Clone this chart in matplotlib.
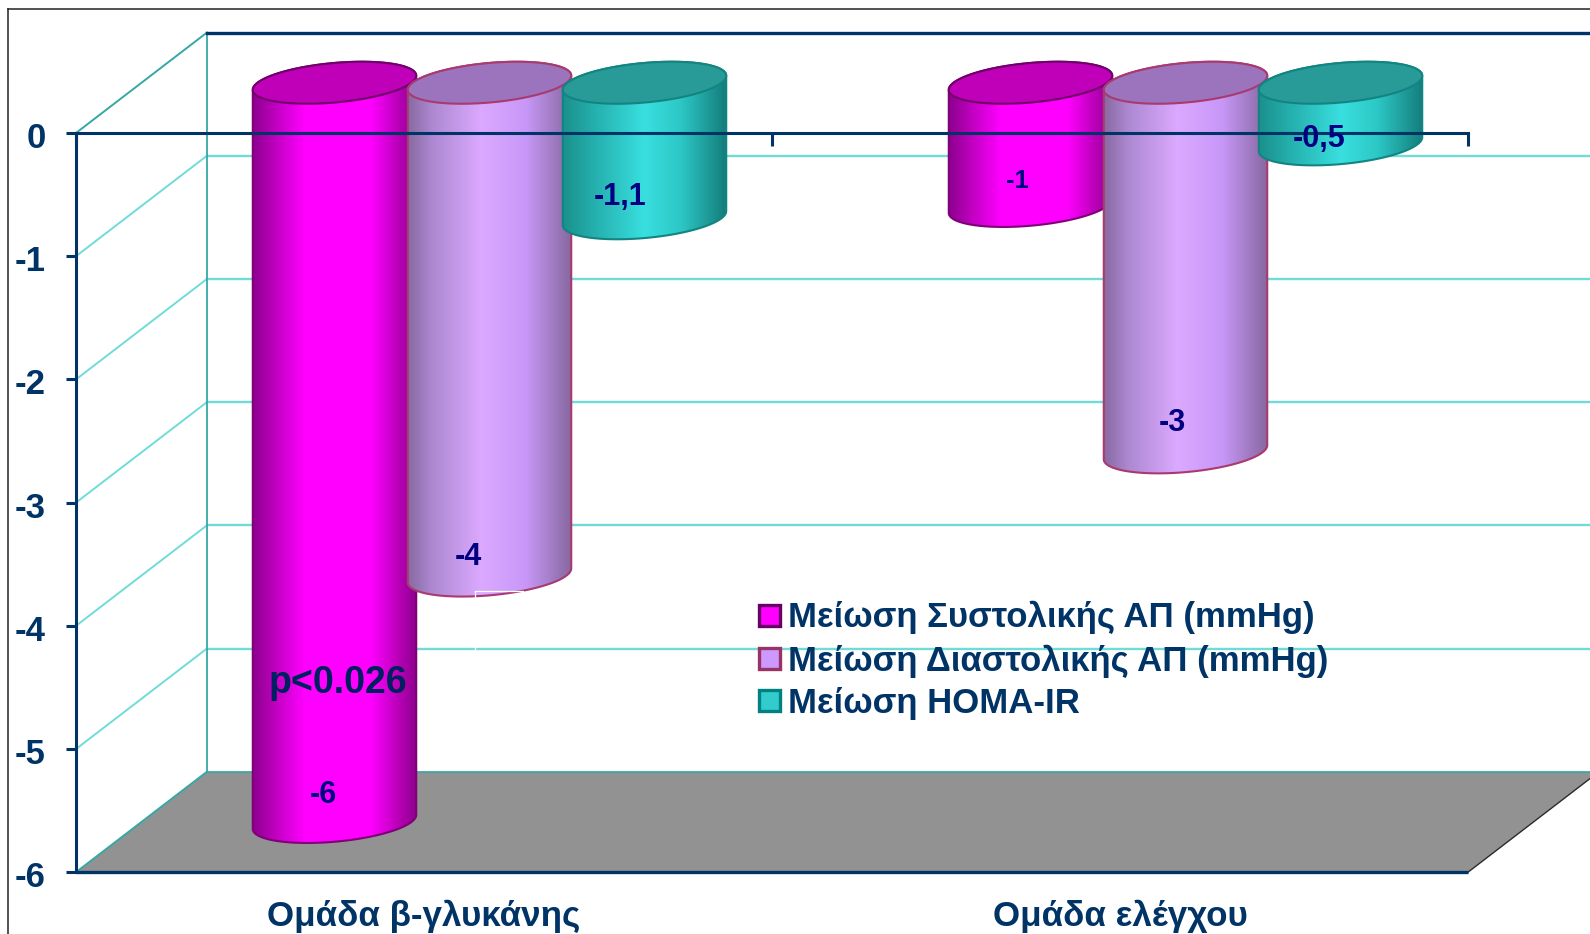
import numpy as np
import matplotlib
matplotlib.use("Agg")
import matplotlib.pyplot as plt
from matplotlib.colors import to_rgb
from matplotlib.lines import Line2D
from matplotlib.patches import Patch, Polygon, PathPatch
from matplotlib.path import Path
from matplotlib.transforms import ScaledTranslation

# ---- chart values ----
groups = ["Ομάδα β-γλυκάνης", "Ομάδα ελέγχου"]
series_names = ["Μείωση Συστολικής ΑΠ (mmHg)",
                "Μείωση Διαστολικής ΑΠ (mmHg)",
                "Μείωση HOMA-IR"]
systolic = [-6, -1]
diastolic = [-4, -3]
homa_ir = [-1.1, -0.5]
value_labels = [["-6", "-1"], ["-4", "-3"], ["-1,1", "-0,5"]]
y_ticks = [0, -1, -2, -3, -4, -5, -6]
y_tick_labels = ["0", "-1", "-2", "-3", "-4", "-5", "-6"]
significance = "p<0.026"

# ---- canvas and scale ----
W, H = 1590, 934
PX_PER_GROUP = 696.0
PX_PER_UNIT = 123.2
ZERO_X, ZERO_Y = 76.0, 133.0
NAVY = "#003366"
LABEL_BLUE = "#000080"
GRID = "#6fdcd8"
WALL = "#35a8a6"

plt.rcParams["font.family"] = ["Liberation Sans", "DejaVu Sans"]
plt.rcParams["font.weight"] = "bold"

fig = plt.figure(figsize=(W / 100, H / 100), dpi=100, facecolor="white")
ax = fig.add_axes([0, 0, 1, 1])
ax.set_xlim(-ZERO_X / PX_PER_GROUP, (W - ZERO_X) / PX_PER_GROUP)
ax.set_ylim(-(H - ZERO_Y) / PX_PER_UNIT, ZERO_Y / PX_PER_UNIT)
ax.patch.set_alpha(0)

# Oblique projection: how far the full chart depth shifts a point.
DEPTH_X = 131.0 / PX_PER_GROUP
DEPTH_Y = 100.5 / PX_PER_UNIT
x_end = 2.0 + DEPTH_X + 0.2
x_back = DEPTH_X

# ---- floor and walls ----
floor = Polygon([(0, -6), (2, -6), (2 + DEPTH_X, -6 + DEPTH_Y), (DEPTH_X, -6 + DEPTH_Y)],
                closed=True, facecolor="#929292", edgecolor="none", zorder=1.1)
ax.add_patch(floor)
ax.plot([2, 2 + DEPTH_X], [-6, -6 + DEPTH_Y], color="#2a2a2a", lw=1.0, zorder=1.2)
ax.plot([x_back, x_end], [-6 + DEPTH_Y] * 2, color=WALL, lw=1.2, zorder=1.2)

for v in y_ticks[1:-1]:
    ax.plot([x_back, x_end], [v + DEPTH_Y] * 2, color=GRID, lw=1.7, zorder=1.0)
for v in y_ticks:
    colour = WALL if v in (0, -6) else GRID
    ax.plot([0, DEPTH_X], [v, v + DEPTH_Y], color=colour, lw=1.4, zorder=1.2)
ax.plot([x_back, x_back], [-6 + DEPTH_Y, DEPTH_Y], color=WALL, lw=1.3, zorder=1.2)
ax.plot([x_back, x_end], [DEPTH_Y, DEPTH_Y], color=NAVY, lw=2.4, zorder=1.3)


def ramp(stops, n=256):
    """Horizontal colour ramp from (position, colour) stops."""
    pos = [p for p, _ in stops]
    rgb = np.array([to_rgb(c) for _, c in stops])
    u = np.linspace(0, 1, n)
    return np.stack([np.interp(u, pos, rgb[:, i]) for i in range(3)], axis=-1)[None, :, :]


series = [systolic, diastolic, homa_ir]
body_ramps = [
    [(0, "#8a008c"), (0.12, "#b800b8"), (0.32, "#ff00ff"), (0.72, "#ff00ff"), (1, "#8c008a")],
    [(0, "#86689f"), (0.15, "#ad88d0"), (0.45, "#dba9ff"), (0.72, "#c898f8"), (1, "#86689f")],
    [(0, "#1b8f8c"), (0.2, "#25b0ae"), (0.5, "#39dfdf"), (0.72, "#2cc8c6"), (1, "#147c7a")],
]
top_fill = ["#c000b8", "#9b74bd", "#289a98"]
top_edge = ["#70006a", "#a83a70", "#128482"]
body_edge = ["#800078", "#a83a70", "#128482"]
handle_fill = ["#ff00ff", "#cc99ff", "#33cccc"]
handle_edge = ["#660066", "#993366", "#008080"]

BAR_STEP = 155.0 / PX_PER_GROUP
R_WIDE = 77.0 / PX_PER_GROUP
R_DEPTH = 0.209
T_SIDE = np.arctan2(R_DEPTH * DEPTH_X, R_WIDE)
HALF_W = 82.5 / PX_PER_GROUP

# Pixel nudges of the value labels from each bar's end point.
label_nudge = [[(-11, 27), (-13, 25)], [(-21, 19), (-13, 29)], [(-24, 21), (-21, 5)]]


def ring(cx, cy, t):
    return (cx + R_WIDE * np.cos(t) + R_DEPTH * DEPTH_X * np.sin(t),
            cy + R_DEPTH * DEPTH_Y * np.sin(t))


# ---- cylinders, drawn left to right so each overlaps its left neighbour ----
for g in range(len(groups)):
    for s, vals in enumerate(series):
        z = 1.5 + 0.01 * (3 * g + s)
        cx = g + 0.5 + (s - 1) * BAR_STEP + 0.5 * DEPTH_X
        y_top = 0.5 * DEPTH_Y
        y_bot = vals[g] + 0.5 * DEPTH_Y

        low = np.linspace(np.pi + T_SIDE, 2 * np.pi + T_SIDE, 80)
        upp = np.linspace(T_SIDE, np.pi + T_SIDE, 80)
        bx, by = ring(cx, y_bot, low)
        tx, ty = ring(cx, y_top, upp)
        verts = np.column_stack([np.r_[bx, tx], np.r_[by, ty]])
        outline = Path(np.vstack([verts, verts[0]]), closed=True)

        im = ax.imshow(ramp(body_ramps[s]), aspect="auto", interpolation="bilinear",
                       extent=(cx - HALF_W, cx + HALF_W, y_bot - 0.3, y_top + 0.3), zorder=z)
        im.set_clip_path(PathPatch(outline, transform=ax.transData))
        ax.add_patch(PathPatch(outline, facecolor="none", edgecolor=body_edge[s],
                               lw=1.5, zorder=z))

        ex, ey = ring(cx, y_top, np.linspace(0, 2 * np.pi, 160))
        ax.add_patch(Polygon(np.column_stack([ex, ey]), closed=True, facecolor=top_fill[s],
                             edgecolor=top_edge[s], lw=1.5, zorder=z))

        dx_px, dy_px = label_nudge[s][g]
        ax.annotate(value_labels[s][g], xy=(cx, y_bot), xytext=(dx_px * 0.72, dy_px * 0.72),
                    textcoords="offset points", ha="center", va="center",
                    color=LABEL_BLUE, fontsize=18.5 if value_labels[s][g] == "-1" else 22,
                    zorder=5)

ax.set_xlim(-ZERO_X / PX_PER_GROUP, (W - ZERO_X) / PX_PER_GROUP)
ax.set_ylim(-(H - ZERO_Y) / PX_PER_UNIT, ZERO_Y / PX_PER_UNIT)

# Thin white corner left over from the legend box.
ax.plot([0.573, 0.642], [-3.72, -3.72], color="white", lw=0.9, zorder=2.0)
ax.plot([0.573, 0.573], [-3.72, -4.22], color="white", lw=0.9, zorder=2.0)

# ---- axes on the front plane ----
for side in ("top", "right"):
    ax.spines[side].set_visible(False)
ax.spines["left"].set_position(("data", 0))
ax.spines["left"].set_bounds(-6, 0)
ax.spines["bottom"].set_position(("data", 0))
ax.spines["bottom"].set_bounds(0, 2)
for side in ("left", "bottom"):
    ax.spines[side].set_color(NAVY)
    ax.spines[side].set_linewidth(2.2)
ax.plot([0, 2], [-6, -6], color=NAVY, lw=2.4, zorder=2.4, solid_capstyle="butt")

ax.set_yticks(y_ticks)
ax.set_yticklabels(y_tick_labels)
ax.tick_params(axis="y", direction="out", length=7.5, width=2.2, color=NAVY,
               labelcolor=NAVY, labelsize=25, pad=14.5)
label_drop = ScaledTranslation(0, -4 / 72, fig.dpi_scale_trans)
for lab in ax.get_yticklabels():
    lab.set_verticalalignment("center")
    lab.set_transform(lab.get_transform() + label_drop)
ax.set_xticks([0, 1, 2])
ax.set_xticklabels([])
ax.tick_params(axis="x", direction="out", length=9, width=2.2, color=NAVY)

for g, name in enumerate(groups):
    ax.text(g + 0.5, -6.437, name, ha="center", va="baseline", color=NAVY, fontsize=25.2, zorder=5)

ax.text(0.376, -4.465, significance, ha="center", va="center", color="#002060",
        fontsize=27, zorder=5)

# ---- legend ----
handles = [Patch(facecolor=handle_fill[i], edgecolor=handle_edge[i], lw=2.4)
           for i in range(3)]
ax.legend(handles, series_names, loc="upper left", bbox_to_anchor=(0.981, -3.80),
          bbox_transform=ax.transData, frameon=False, fontsize=25, labelcolor=NAVY,
          borderpad=0, borderaxespad=0, handlelength=0.6, handleheight=0.55,
          handletextpad=0.25, labelspacing=0.28).set_zorder(4)

# ---- outer border ----
for xs, ys in [((8 / W, 8 / W), (0, 1 - 9 / H)), ((8 / W, 1), (1 - 9 / H, 1 - 9 / H))]:
    fig.add_artist(Line2D(xs, ys, color="#222222", lw=1.1))

fig.savefig("out.png", dpi=100)
